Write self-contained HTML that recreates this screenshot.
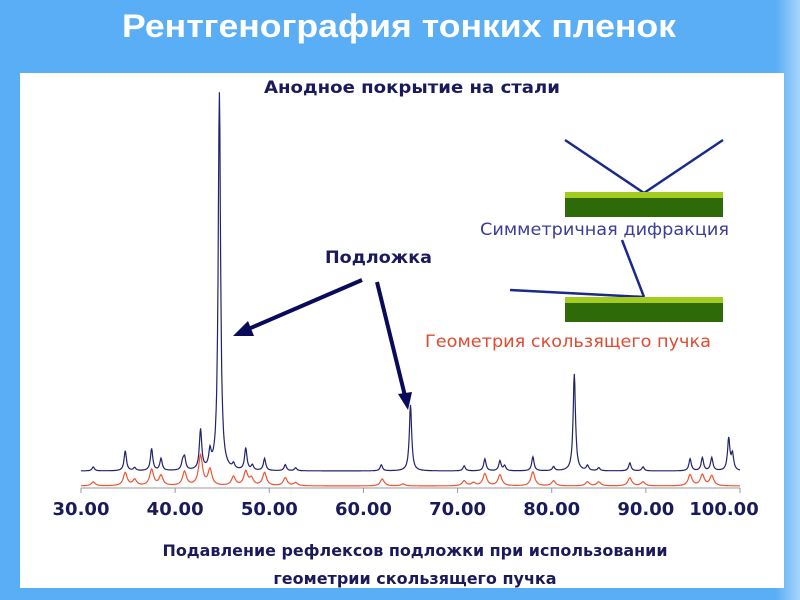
<!DOCTYPE html>
<html><head><meta charset="utf-8"><style>
html,body{margin:0;padding:0;width:800px;height:600px;overflow:hidden;background:#5aaef5}
svg{display:block}
</style></head><body>
<svg width="800" height="600" xmlns="http://www.w3.org/2000/svg">
<defs><linearGradient id="bg" x1="0" x2="1" y1="0" y2="0"><stop offset="0" stop-color="#5aaef5"/><stop offset="0.97" stop-color="#5aaef5"/><stop offset="1" stop-color="#a8d6fb"/></linearGradient></defs>
<rect width="800" height="600" fill="url(#bg)"/>
<text x="399" y="37" text-anchor="middle" font-family="Liberation Sans, sans-serif" font-weight="bold" font-size="32" fill="#fff" textLength="554" lengthAdjust="spacingAndGlyphs">Рентгенография тонких пленок</text>
<rect x="20" y="73" width="764" height="515" fill="#fff"/>
<text x="412" y="93" text-anchor="middle" font-family="DejaVu Sans, sans-serif" font-weight="bold" font-size="17" fill="#1a1a5a" textLength="296" lengthAdjust="spacingAndGlyphs">Анодное покрытие на стали</text>
<g id="plot"></g>
<text x="415" y="556" text-anchor="middle" font-family="DejaVu Sans, sans-serif" font-weight="bold" font-size="16" fill="#1a1a5a" textLength="505" lengthAdjust="spacingAndGlyphs">Подавление рефлексов подложки при использовании</text>
<text x="415" y="584" text-anchor="middle" font-family="DejaVu Sans, sans-serif" font-weight="bold" font-size="16" fill="#1a1a5a">геометрии скользящего пучка</text>
<polyline points="565,140 644,193 723,140" fill="none" stroke="#1a2a8a" stroke-width="2.5"/>
<rect x="565" y="192" width="158" height="6" fill="#a4cc1e"/>
<rect x="565" y="198" width="158" height="19" fill="#2f6a08"/>
<text x="480" y="235" font-family="DejaVu Sans, sans-serif" font-size="17" fill="#3c3c9a" textLength="249" lengthAdjust="spacingAndGlyphs">Симметричная дифракция</text>
<line x1="622" y1="240" x2="644" y2="297" stroke="#1a2a8a" stroke-width="2.5"/>
<line x1="510" y1="290" x2="644" y2="297" stroke="#1a2a8a" stroke-width="2.5"/>
<rect x="565" y="297" width="158" height="6" fill="#a4cc1e"/>
<rect x="565" y="303" width="158" height="19" fill="#2f6a08"/>
<text x="425" y="347" font-family="DejaVu Sans, sans-serif" font-size="17" fill="#e04a30" textLength="286" lengthAdjust="spacingAndGlyphs">Геометрия скользящего пучка</text>
<text x="325" y="263" font-family="DejaVu Sans, sans-serif" font-weight="bold" font-size="17" fill="#1a1a5a" textLength="107" lengthAdjust="spacingAndGlyphs">Подложка</text>
<line x1="362" y1="280" x2="246" y2="330" stroke="#0a0a5a" stroke-width="4"/>
<polygon points="233,336 248,321 254,336" fill="#0a0a5a"/>
<line x1="377" y1="282" x2="405" y2="396" stroke="#0a0a5a" stroke-width="4"/>
<polygon points="408,410 398,394 412,392" fill="#0a0a5a"/>
</svg>
<script>
const xTicks=[30,40,50,60,70,80,90,100];
const tickLabels=["30.00","40.00","50.00","60.00","70.00","80.00","90.00","100.00"];
const bluePos=[31.3,34.7,35.7,37.5,38.5,40.8,41.0,42.7,43.7,44.7,46.2,47.5,48.2,49.5,51.7,52.8,61.9,65.0,70.7,72.9,74.5,75.0,78.0,80.2,82.4,83.8,85.0,88.3,89.7,94.7,96.0,97.0,98.8,99.2];
const blueAmp=[4,20,3,22,12,8,12,40,16,378,5,22,5,12,6,3,6,66,5,12,10,5,14,4,97,5,3,8,4,12,13,13,32,16];
const redPos=[31.3,34.7,35.7,37.5,38.5,41.0,42.7,43.7,46.2,47.5,48.1,49.5,51.7,52.8,62.0,64.2,70.7,71.7,72.9,74.5,78.0,80.2,83.8,85.0,88.3,89.7,94.7,96.0,97.0];
const redAmp=[4,13,6,16,10,14,30,16,9,14,7,13,8,3,7,2,5,3,12,11,14,5,4,4,8,4,11,11,10];
const NS='http://www.w3.org/2000/svg';
const g=document.getElementById('plot');
const X=v=>81+(v-30)*(740-81)/70;
function mk(t,a){const e=document.createElementNS(NS,t);for(const k in a)e.setAttribute(k,a[k]);g.appendChild(e);return e;}
function curve(pos,amp,base,w){let d='';for(let x=30;x<=100;x+=0.05){let y=0;for(let i=0;i<pos.length;i++){const u=(x-pos[i])/w;y+=amp[i]/(1+u*u);}d+=(d?'L':'M')+X(x).toFixed(1)+','+(base-y).toFixed(1);}return d;}
const ax=mk('line',{x1:X(30),y1:488,x2:X(100),y2:488,stroke:'#999','stroke-width':1});


xTicks.forEach((t,i)=>{
 const tk=mk('line',{x1:X(t),y1:488,x2:X(t),y2:493,stroke:'#999'});
 
 
 const tl=mk('text',{x:X(t)+(t===100?-16:0),y:515,'text-anchor':'middle','font-family':'DejaVu Sans, sans-serif','font-weight':'bold','font-size':'18',fill:'#1a1a5a'});
 tl.textContent=tickLabels[i];
 
 
});
const r=mk('path',{d:curve(redPos,redAmp,486,0.25),fill:'none',stroke:'#ee5533','stroke-width':1.2});


const b=mk('path',{d:curve(bluePos,blueAmp,471,0.15),fill:'none',stroke:'#22226e','stroke-width':1.2});


</script>
</body></html>
